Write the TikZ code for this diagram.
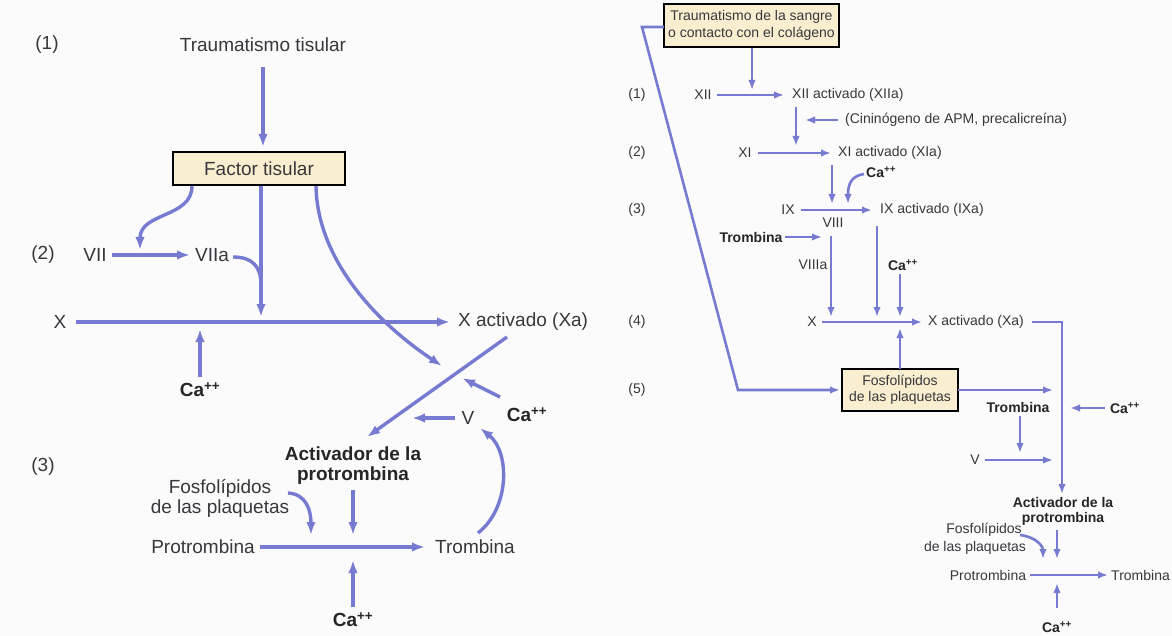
\documentclass[tikz,border=0pt]{standalone}
\usepackage{fontspec}
\setmainfont{Liberation Sans}
\usetikzlibrary{arrows.meta}
\definecolor{ablue}{RGB}{118,122,208}
\definecolor{boxfill}{RGB}{250,238,208}
\definecolor{txt}{RGB}{55,55,60}
\definecolor{bg}{RGB}{251,251,252}
\tikzset{
  lt/.style={font=\fontsize{19}{20}\selectfont, text=txt, inner sep=0pt},
  ltb/.style={font=\bfseries\fontsize{19}{20}\selectfont, text=black!85, inner sep=0pt},
  rt/.style={font=\fontsize{14}{16}\selectfont, text=txt, inner sep=0pt},
  rtb/.style={font=\bfseries\fontsize{14}{15}\selectfont, text=black!85, inner sep=0pt},
  fbox/.style={draw=black, line width=1.4pt, fill=boxfill},
  la/.style={draw=ablue, line width=3.4pt, -{Latex[length=13pt,width=9.5pt]}},
  ll/.style={draw=ablue, line width=3.4pt},
  ra/.style={draw=ablue, line width=2.6pt, -{Latex[length=10pt,width=7.5pt]}},
  rl/.style={draw=ablue, line width=2.6pt},
}
\begin{document}
\begin{tikzpicture}[x=1pt,y=-1pt]
\useasboundingbox (0,0) rectangle (1172,636);
\fill[bg] (0,0) rectangle (1172,636);

% ================= LEFT DIAGRAM =================
\node[lt] (L1) at (47,45) {(1)};
\node[lt] (L2) at (43,255) {(2)};
\node[lt] (L3) at (43,467) {(3)};
\node[lt] (Ltr) at (263,45) {Traumatismo tisular};
\node[fbox, lt, minimum width=172pt, minimum height=33pt] (Lft) at (259,168.5) {Factor tisular};
\node[lt] (LVII) at (95,255) {VII};
\node[lt] (LVIIa) at (212,255) {VIIa};
\node[lt] (LX) at (60,322) {X};
\node[lt, anchor=west] (LXa) at (458,322) {X activado (Xa)};
\node[ltb] (LCa1) at (200,390) {Ca\textsuperscript{++}};
\node[ltb] (LCa2) at (527,415) {Ca\textsuperscript{++}};
\node[lt] (LV) at (468,418) {V};
\node[ltb, align=center] (Lact) at (353,465.5) {Activador de la\\protrombina};
\node[lt, align=center] (Lfos) at (220,498) {Fosfolípidos\\de las plaquetas};
\node[lt] (Lpro) at (203,547) {Protrombina};
\node[lt] (Ltro) at (475,547) {Trombina};
\node[ltb] (LCa3) at (353,620) {Ca\textsuperscript{++}};

\coordinate (a1) at (263,67);   \coordinate (a1e) at (263,147);
\coordinate (s1) at (192,186);  \coordinate (s1e) at (140,250);
\coordinate (v1) at (112,255);  \coordinate (v1e) at (190,255);
\coordinate (c1) at (233,257);  \coordinate (c1e) at (261,285);
\coordinate (d1) at (261,186);  \coordinate (d1e) at (261,317);
\coordinate (b1) at (316,186);  \coordinate (b1e) at (442,366);
\coordinate (x1) at (76,322);   \coordinate (x1e) at (450,322);
\coordinate (ca1) at (200,377); \coordinate (ca1e) at (200,329);
\coordinate (g1) at (507,337);  \coordinate (g1e) at (367,437);
\coordinate (ca2) at (500,397); \coordinate (ca2e) at (462,378);
\coordinate (vv) at (455,418);  \coordinate (vve) at (412,418);
\coordinate (t1) at (478,533);  \coordinate (t1e) at (480,428);
\coordinate (f1) at (288,493);  \coordinate (f1e) at (311,535);
\coordinate (p1) at (353,490);  \coordinate (p1e) at (353,535);
\coordinate (h1) at (260,547);  \coordinate (h1e) at (425,547);
\coordinate (ca3) at (353,607); \coordinate (ca3e) at (353,560);

\draw[la] (a1) -- (a1e);
\draw[la] (s1) .. controls (192,218) and (140,212) .. (s1e);
\draw[la] (v1) -- (v1e);
\draw[ll] (c1) .. controls (252,257) and (261,266) .. (c1e);
\draw[la] (d1) -- (d1e);
\draw[la] (b1) .. controls (317,255) and (370,318) .. (b1e);
\draw[la] (x1) -- (x1e);
\draw[la] (ca1) -- (ca1e);
\draw[la] (g1) -- (g1e);
\draw[la] (ca2) -- (ca2e);
\draw[la] (vv) -- (vve);
\draw[la] (t1) .. controls (510,508) and (510,452) .. (t1e);
\draw[la] (f1) .. controls (306,494) and (311,510) .. (f1e);
\draw[la] (p1) -- (p1e);
\draw[la] (h1) -- (h1e);
\draw[la] (ca3) -- (ca3e);

% ================= RIGHT DIAGRAM =================
\node[fbox, rt, align=center, minimum width=175pt, minimum height=43pt,
      font=\fontsize{14}{17}\selectfont] (Rtb) at (751.5,25.5)
      {Traumatismo de la sangre\\o contacto con el colágeno};
\node[rt] (R1) at (637,95) {(1)};
\node[rt] (R2) at (637,153) {(2)};
\node[rt] (R3) at (637,210) {(3)};
\node[rt] (R4) at (637,322) {(4)};
\node[rt] (R5) at (637,390) {(5)};
\node[rt] (RXII) at (703,95) {XII};
\node[rt, anchor=west] (RXIIa) at (792,95) {XII activado (XIIa)};
\node[rt, anchor=west] (Rcin) at (845,120) {(Cininógeno de APM, precalicreína)};
\node[rt] (RXI) at (745,153) {XI};
\node[rt, anchor=west] (RXIa) at (838,153) {XI activado (XIa)};
\node[rtb, anchor=west] (RCa1) at (866,172) {Ca\textsuperscript{++}};
\node[rt] (RIX) at (788,210) {IX};
\node[rt, anchor=west] (RIXa) at (880,210) {IX activado (IXa)};
\node[rt] (RVIII) at (833,223) {VIII};
\node[rtb] (Rtr1) at (751,237) {Trombina};
\node[rt] (RVIIIa) at (813,265) {VIIIa};
\node[rtb] (RCa2) at (903,265) {Ca\textsuperscript{++}};
\node[rt] (RX) at (812,322) {X};
\node[rt, anchor=west] (RXa) at (928,322) {X activado (Xa)};
\node[fbox, rt, align=center, minimum width=116pt, minimum height=42pt] (Rfp) at (900,390)
      {Fosfolípidos\\de las plaquetas};
\node[rtb] (Rtr2) at (1018,407) {Trombina};
\node[rtb] (RCa3) at (1125,408) {Ca\textsuperscript{++}};
\node[rt] (RV) at (975,460) {V};
\node[rtb, align=center] (Ract) at (1063,511) {Activador de la\\protrombina};
\node[rt] (Rfos1) at (984,530) {Fosfolípidos};
\node[rt] (Rfos2) at (975,548) {de las plaquetas};
\node[rt] (Rpro) at (988,575) {Protrombina};
\node[rt, anchor=west] (Rtro) at (1111,575) {Trombina};
\node[rtb] (RCa4) at (1057,627) {Ca\textsuperscript{++}};

\coordinate (q0) at (664,27);   \coordinate (q1) at (642,27);
\coordinate (q2) at (738,390);  \coordinate (q3) at (840,390);
\coordinate (r1) at (752,48);   \coordinate (r1e) at (752,90);
\coordinate (r2) at (717,95);   \coordinate (r2e) at (784,95);
\coordinate (r3) at (796,107);  \coordinate (r3e) at (796,146);
\coordinate (r4) at (838,120);  \coordinate (r4e) at (805,120);
\coordinate (r5) at (758,153);  \coordinate (r5e) at (831,153);
\coordinate (r6) at (832,165);  \coordinate (r6e) at (832,204);
\coordinate (r7) at (864,174);  \coordinate (r7e) at (848,204);
\coordinate (r8) at (801,210);  \coordinate (r8e) at (872,210);
\coordinate (r9) at (785,237);  \coordinate (r9e) at (822,237);
\coordinate (r10) at (831,236); \coordinate (r10e) at (831,317);
\coordinate (r11) at (877,226); \coordinate (r11e) at (877,317);
\coordinate (r12) at (900,274); \coordinate (r12e) at (900,317);
\coordinate (r13) at (822,322); \coordinate (r13e) at (922,322);
\coordinate (r14) at (900,369); \coordinate (r14e) at (900,328);
\coordinate (r15) at (1032,322);\coordinate (r15m) at (1062,322); \coordinate (r15e) at (1062,494);
\coordinate (r16) at (958,390); \coordinate (r16e) at (1053,390);
\coordinate (r17) at (1020,416);\coordinate (r17e) at (1020,453);
\coordinate (r18) at (985,460); \coordinate (r18e) at (1053,460);
\coordinate (r19) at (1105,408);\coordinate (r19e) at (1070,408);
\coordinate (r20) at (1020,535);\coordinate (r20e) at (1043,559);
\coordinate (r21) at (1057,530);\coordinate (r21e) at (1057,559);
\coordinate (r22) at (1030,575);\coordinate (r22e) at (1108,575);
\coordinate (r23) at (1057,608);\coordinate (r23e) at (1057,583);

\draw[ra] (q0) -- (q1) -- (q2) -- (q3);
\draw[ra] (r1) -- (r1e);
\draw[ra] (r2) -- (r2e);
\draw[ra] (r3) -- (r3e);
\draw[ra] (r4) -- (r4e);
\draw[ra] (r5) -- (r5e);
\draw[ra] (r6) -- (r6e);
\draw[ra] (r7) .. controls (850,176) and (848,186) .. (r7e);
\draw[ra] (r8) -- (r8e);
\draw[ra] (r9) -- (r9e);
\draw[ra] (r10) -- (r10e);
\draw[ra] (r11) -- (r11e);
\draw[ra] (r12) -- (r12e);
\draw[ra] (r13) -- (r13e);
\draw[ra] (r14) -- (r14e);
\draw[ra] (r15) -- (r15m) -- (r15e);
\draw[ra] (r16) -- (r16e);
\draw[ra] (r17) -- (r17e);
\draw[ra] (r18) -- (r18e);
\draw[ra] (r19) -- (r19e);
\draw[ra] (r20) .. controls (1036,537) and (1043,546) .. (r20e);
\draw[ra] (r21) -- (r21e);
\draw[ra] (r22) -- (r22e);
\draw[ra] (r23) -- (r23e);
\end{tikzpicture}
\end{document}
